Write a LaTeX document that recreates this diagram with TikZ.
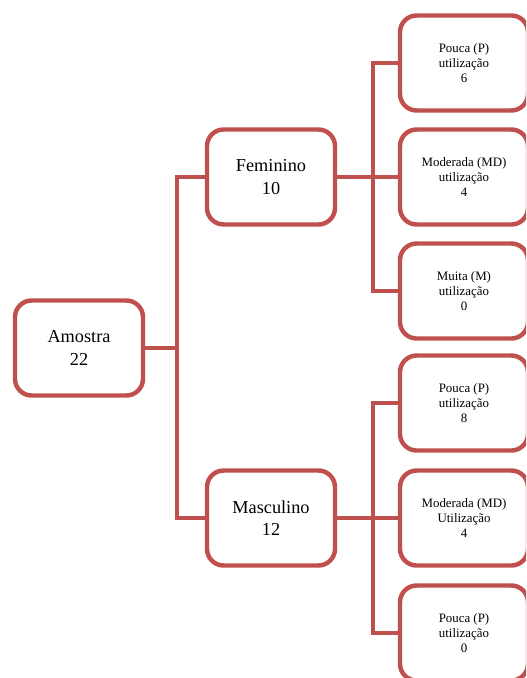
\documentclass[tikz,border=0pt]{standalone}
\usepackage{fontspec}
\setmainfont{Liberation Serif}
\definecolor{boxred}{RGB}{192, 80, 77}
\newcommand{\mainlbl}{\fontsize{15.6}{19}\selectfont}
\newcommand{\sublbl}{\fontsize{11}{12.6}\selectfont}

\begin{document}
\begin{tikzpicture}[x=0.03cm,y=-0.03cm,
    box/.style={draw=boxred,line width=3.8pt,rounded corners=.5cm,fill=white,
      minimum width=3.84cm,minimum height=2.85cm,align=center,inner sep=0pt},
    link/.style={draw=boxred,line width=3.8pt}]
      %\draw[step=10,gray,very thin] (0,0) grid (526,678);
      \useasboundingbox (0,0) rectangle (526,678);
      \clip (0,0) rectangle (526,678);
      % left and middle boxes
      \node[box,font=\mainlbl] (amostra) at (79,348) {Amostra\\22};
      \node[box,font=\mainlbl] (fem) at (271,177) {Feminino\\10};
      \node[box,font=\mainlbl] (masc) at (271,518) {Masculino\\12};
      % right column
      \node[box,font=\sublbl] (fp) at (464,63) {Pouca (P)\\utilização\\6};
      \node[box,font=\sublbl] (fmd) at (464,177) {Moderada (MD)\\utilização\\4};
      \node[box,font=\sublbl] (fm) at (464,291) {Muita (M)\\utilização\\0};
      \node[box,font=\sublbl] (mp) at (464,403) {Pouca (P)\\utilização\\8};
      \node[box,font=\sublbl] (mmd) at (464,518) {Moderada (MD)\\Utilização\\4};
      \node[box,font=\sublbl] (mp2) at (464,633) {Pouca (P)\\utilização\\0};
      % junction points
      \coordinate (jA) at (177,348);
      \coordinate (jF) at (373,177);
      \coordinate (jM) at (373,518);
      % connectors
      \path[link] (amostra) -- (jA);
      \path[link] (jA) |- (fem);
      \path[link] (jA) |- (masc);
      \path[link] (fem) -- (fmd);
      \path[link] (masc) -- (mmd);
      \path[link] (jF) |- (fp);
      \path[link] (jF) |- (fm);
      \path[link] (jM) |- (mp);
      \path[link] (jM) |- (mp2);
\end{tikzpicture}
\end{document}
